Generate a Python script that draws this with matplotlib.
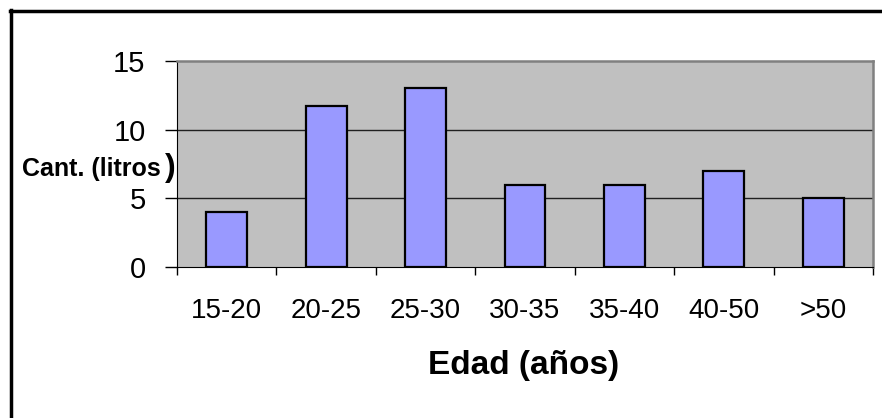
import numpy as np
import matplotlib.pyplot as plt
from matplotlib.lines import Line2D

# DATA
categorias = ['15-20', '20-25', '25-30', '30-35', '35-40', '40-50', '>50']
litros = [4, 11.75, 13.05, 6, 6, 7, 5]
y_ticks = [0, 5, 10, 15]

plt.rcParams['font.family'] = ['Liberation Sans', 'DejaVu Sans']

W, H = 882, 418
fig = plt.figure(figsize=(W / 100, H / 100), dpi=100)
ax = fig.add_axes([177 / W, 1 - 267 / H, (873 - 177) / W, (267 - 61) / H])
ax.set_facecolor('#C0C0C0')

x = np.arange(len(categorias))
ax.bar(x, litros, width=0.41, color='#9999FF', edgecolor='black', linewidth=1.6, zorder=3)

ax.set_xlim(-0.5, len(categorias) - 0.5)
ax.set_ylim(0, 15)
ax.set_yticks(y_ticks)
ax.set_yticklabels([str(t) for t in y_ticks], fontsize=21)
ax.tick_params(axis='y', length=8.6, width=1, pad=14, direction='out')

# ticks at category boundaries, labels at centres
ax.set_xticks(np.arange(-0.5, len(categorias)))
ax.set_xticklabels([])
ax.set_xticks(x, minor=True)
ax.set_xticklabels(categorias, minor=True, fontsize=20)
ax.tick_params(axis='x', which='major', length=6, width=1, direction='out')
ax.tick_params(axis='x', which='minor', length=0, pad=22)

for v in [5, 10]:
    ax.axhline(v, color='#202020', linewidth=1, zorder=1)

ax.spines['left'].set_color('black')
ax.spines['bottom'].set_color('black')
ax.spines['top'].set_color('#808080')
ax.spines['right'].set_color('#808080')
ax.spines['top'].set_linewidth(1.8)
ax.spines['right'].set_linewidth(1.8)

fig.text(619 / W, 1 - 374 / H, 'Edad (años)', fontsize=24,
         fontweight='bold', ha='right', va='baseline')
fig.text(22 / W, 1 - 176 / H, 'Cant. (litros', fontsize=18,
         fontweight='bold', ha='left', va='baseline')
fig.text(165 / W, 1 - 176 / H, ')', fontsize=23,
         fontweight='bold', ha='left', va='baseline')

# outer frame (only left and top visible)
fig.add_artist(Line2D([10.5 / W, 10.5 / W], [0, 1 - 10 / H], transform=fig.transFigure,
                      color='black', linewidth=2.5))
fig.add_artist(Line2D([10 / W, 1], [1 - 10.5 / H, 1 - 10.5 / H], transform=fig.transFigure,
                      color='black', linewidth=2.5))

fig.savefig('out.png', dpi=100)
